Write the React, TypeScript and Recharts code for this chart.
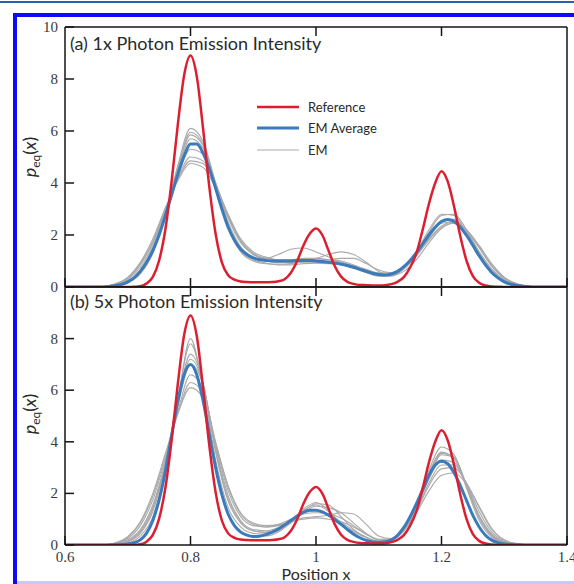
import { Line, LineChart, XAxis, YAxis } from "recharts";

// positions along x (fine grid for reference/average, coarse grid for single EM runs)
const posFine = [
  0.6, 0.61, 0.62, 0.63, 0.64, 0.65, 0.66, 0.67, 0.68, 0.69, 0.7,
  0.71, 0.72, 0.73, 0.74, 0.75, 0.76, 0.77, 0.78, 0.79, 0.8,
  0.81, 0.82, 0.83, 0.84, 0.85, 0.86, 0.87, 0.88, 0.89, 0.9,
  0.91, 0.92, 0.93, 0.94, 0.95, 0.96, 0.97, 0.98, 0.99, 1.0,
  1.01, 1.02, 1.03, 1.04, 1.05, 1.06, 1.07, 1.08, 1.09, 1.1,
  1.11, 1.12, 1.13, 1.14, 1.15, 1.16, 1.17, 1.18, 1.19, 1.2,
  1.21, 1.22, 1.23, 1.24, 1.25, 1.26, 1.27, 1.28, 1.29, 1.3,
  1.31, 1.32, 1.33, 1.34, 1.35, 1.36, 1.37, 1.38, 1.39, 1.4,
];

const posCoarse = [
  0.6, 0.64, 0.66, 0.68, 0.7, 0.72, 0.74, 0.76, 0.78, 0.8,
  0.82, 0.84, 0.86, 0.88, 0.9, 0.92, 0.94, 0.96, 0.98, 1.0,
  1.02, 1.04, 1.06, 1.08, 1.1, 1.12, 1.14, 1.16, 1.18, 1.2,
  1.22, 1.24, 1.26, 1.28, 1.3, 1.32, 1.34, 1.36, 1.4,
];

const reference = [
  0, 0, 0, 0, 0, 0, 0, 0, 0, 0, 0,
  0.01, 0.03, 0.13, 0.39, 1.02, 2.22, 4.08, 6.29, 8.16, 8.9,
  8.1, 6.1, 3.85, 2.05, 0.95, 0.45, 0.28, 0.21, 0.19, 0.18,
  0.18, 0.18, 0.19, 0.22, 0.3, 0.55, 1.0, 1.6, 2.05, 2.25,
  2.0, 1.4, 0.8, 0.4, 0.2, 0.12, 0.08, 0.07, 0.06, 0.06,
  0.07, 0.11, 0.2, 0.38, 0.75, 1.3, 2.2, 3.2, 4.0, 4.45,
  4.05, 3.1, 1.95, 1.0, 0.42, 0.16, 0.06, 0.02, 0.01, 0,
  0, 0, 0, 0, 0, 0, 0, 0, 0, 0,
];

const emAverageA = [
  0, 0, 0, 0, 0, 0, 0, 0.02, 0.05, 0.1, 0.2,
  0.35, 0.6, 0.95, 1.4, 2.0, 2.75, 3.55, 4.35, 5.05, 5.5,
  5.5, 5.15, 4.55, 3.8, 3.0, 2.3, 1.8, 1.45, 1.25, 1.12,
  1.05, 1.02, 1.0, 1.0, 1.0, 1.0, 1.02, 1.02, 1.02, 1.0,
  0.98, 0.95, 0.92, 0.88, 0.83, 0.76, 0.68, 0.6, 0.53, 0.48,
  0.46, 0.5, 0.6, 0.78, 1.02, 1.32, 1.66, 2.0, 2.3, 2.52,
  2.6, 2.52, 2.3, 1.98, 1.6, 1.2, 0.85, 0.56, 0.35, 0.2,
  0.11, 0.06, 0.03, 0.01, 0, 0, 0, 0, 0, 0,
];

const emAverageB = [
  0, 0, 0, 0, 0, 0, 0, 0, 0.01, 0.02, 0.04,
  0.09, 0.2, 0.46, 0.95, 1.75, 2.87, 4.25, 5.6, 6.62, 7.0,
  6.6, 5.6, 4.3, 3.0, 1.95, 1.2, 0.75, 0.5, 0.38, 0.33,
  0.34, 0.4, 0.5, 0.62, 0.78, 0.95, 1.12, 1.27, 1.35, 1.35,
  1.28, 1.15, 0.98, 0.8, 0.6, 0.42, 0.28, 0.18, 0.12, 0.1,
  0.12, 0.2, 0.38, 0.68, 1.1, 1.6, 2.15, 2.7, 3.1, 3.25,
  3.15, 2.8, 2.3, 1.72, 1.15, 0.7, 0.38, 0.19, 0.09, 0.04,
  0.02, 0.01, 0, 0, 0, 0, 0, 0, 0, 0,
];

// individual EM runs, 1x intensity
const emRunsA = [
  [0, 0, 0, 0.03, 0.15, 0.5, 1.3, 2.8, 4.7, 6.1, 5.6, 4.0, 2.3, 1.35, 1.0, 0.9, 0.88, 0.9, 0.95, 0.95, 0.92, 0.86, 0.74, 0.58, 0.45, 0.45, 0.72, 1.3, 2.1, 2.75, 2.8, 2.2, 1.3, 0.55, 0.18, 0.05, 0.01, 0, 0],
  [0, 0, 0, 0.04, 0.18, 0.55, 1.35, 2.75, 4.6, 5.95, 5.5, 3.9, 2.3, 1.4, 1.1, 1.1, 1.25, 1.45, 1.5, 1.35, 1.15, 0.95, 0.8, 0.65, 0.5, 0.48, 0.7, 1.2, 1.9, 2.45, 2.5, 2.0, 1.2, 0.55, 0.2, 0.06, 0.01, 0, 0],
  [0, 0, 0.01, 0.06, 0.22, 0.65, 1.5, 2.85, 4.45, 5.7, 5.35, 4.0, 2.5, 1.55, 1.15, 1.0, 0.95, 0.95, 1.0, 1.05, 1.05, 1.0, 0.85, 0.65, 0.48, 0.45, 0.7, 1.25, 1.95, 2.5, 2.6, 2.15, 1.35, 0.65, 0.25, 0.08, 0.02, 0, 0],
  [0, 0, 0.01, 0.08, 0.28, 0.75, 1.6, 2.9, 4.3, 5.3, 5.1, 4.0, 2.65, 1.7, 1.25, 1.1, 1.05, 1.05, 1.05, 1.0, 0.95, 0.9, 0.8, 0.65, 0.52, 0.5, 0.75, 1.3, 2.0, 2.55, 2.6, 2.1, 1.35, 0.7, 0.28, 0.09, 0.02, 0, 0],
  [0, 0, 0.02, 0.1, 0.32, 0.85, 1.7, 2.95, 4.2, 5.0, 4.85, 3.95, 2.75, 1.8, 1.3, 1.1, 1.0, 0.98, 0.98, 1.0, 1.05, 1.1, 1.1, 0.9, 0.65, 0.55, 0.75, 1.2, 1.8, 2.3, 2.45, 2.15, 1.5, 0.8, 0.32, 0.1, 0.03, 0, 0],
  [0, 0, 0.02, 0.1, 0.35, 0.9, 1.75, 3.0, 4.15, 4.85, 4.75, 3.9, 2.8, 1.85, 1.35, 1.15, 1.05, 1.05, 1.1, 1.1, 1.05, 0.95, 0.82, 0.68, 0.55, 0.55, 0.78, 1.25, 1.85, 2.35, 2.5, 2.2, 1.55, 0.85, 0.35, 0.12, 0.03, 0.01, 0],
  [0, 0, 0.02, 0.12, 0.38, 0.95, 1.85, 3.05, 4.1, 4.75, 4.6, 3.8, 2.7, 1.75, 1.25, 1.05, 0.95, 0.95, 1.0, 1.1, 1.25, 1.35, 1.25, 0.95, 0.6, 0.45, 0.6, 1.05, 1.7, 2.25, 2.45, 2.2, 1.6, 0.9, 0.38, 0.12, 0.03, 0.01, 0],
  [0, 0, 0, 0.04, 0.18, 0.55, 1.4, 2.8, 4.55, 5.85, 5.45, 3.95, 2.4, 1.45, 1.05, 0.92, 0.85, 0.85, 0.9, 0.92, 0.9, 0.85, 0.72, 0.55, 0.42, 0.42, 0.7, 1.35, 2.2, 2.8, 2.75, 2.1, 1.25, 0.55, 0.18, 0.05, 0.01, 0, 0],
];

// individual EM runs, 5x intensity
const emRunsB = [
  [0, 0, 0, 0.02, 0.08, 0.35, 1.1, 2.9, 5.6, 8.0, 6.0, 3.0, 1.2, 0.55, 0.35, 0.35, 0.5, 0.9, 1.4, 1.65, 1.35, 0.8, 0.4, 0.2, 0.12, 0.18, 0.6, 1.6, 2.9, 3.8, 3.5, 2.2, 0.95, 0.3, 0.08, 0.02, 0, 0, 0],
  [0, 0, 0, 0.03, 0.12, 0.45, 1.3, 3.1, 5.7, 7.8, 6.2, 3.3, 1.45, 0.7, 0.45, 0.42, 0.55, 0.85, 1.25, 1.5, 1.45, 1.25, 0.85, 0.45, 0.2, 0.2, 0.55, 1.4, 2.6, 3.5, 3.4, 2.3, 1.1, 0.38, 0.1, 0.02, 0, 0, 0],
  [0, 0, 0, 0.04, 0.15, 0.5, 1.4, 3.2, 5.6, 7.4, 6.3, 3.6, 1.7, 0.85, 0.55, 0.5, 0.62, 0.95, 1.35, 1.55, 1.3, 0.85, 0.5, 0.28, 0.15, 0.2, 0.65, 1.6, 2.8, 3.6, 3.35, 2.25, 1.05, 0.35, 0.09, 0.02, 0, 0, 0],
  [0, 0, 0, 0.05, 0.2, 0.6, 1.55, 3.2, 5.4, 7.0, 6.2, 3.8, 1.9, 0.95, 0.6, 0.55, 0.68, 0.95, 1.25, 1.35, 1.2, 0.9, 0.55, 0.3, 0.15, 0.2, 0.6, 1.45, 2.55, 3.3, 3.2, 2.3, 1.15, 0.42, 0.12, 0.03, 0.01, 0, 0],
  [0, 0, 0.01, 0.06, 0.25, 0.75, 1.75, 3.35, 5.2, 6.6, 6.0, 3.9, 2.1, 1.1, 0.75, 0.7, 0.8, 1.0, 1.2, 1.25, 1.2, 1.05, 0.75, 0.42, 0.2, 0.22, 0.6, 1.35, 2.4, 3.1, 3.1, 2.35, 1.3, 0.5, 0.15, 0.04, 0.01, 0, 0],
  [0, 0, 0.01, 0.08, 0.3, 0.85, 1.9, 3.45, 5.1, 6.3, 5.9, 4.0, 2.25, 1.2, 0.8, 0.7, 0.75, 0.9, 1.05, 1.1, 1.15, 1.25, 1.2, 0.8, 0.35, 0.25, 0.55, 1.3, 2.3, 2.95, 3.0, 2.4, 1.45, 0.6, 0.18, 0.05, 0.01, 0, 0],
  [0, 0, 0.01, 0.08, 0.32, 0.9, 2.0, 3.55, 5.1, 6.1, 5.7, 3.95, 2.3, 1.25, 0.85, 0.75, 0.78, 0.9, 1.0, 1.05, 1.0, 0.9, 0.7, 0.42, 0.22, 0.25, 0.6, 1.25, 2.1, 2.7, 2.8, 2.35, 1.5, 0.65, 0.2, 0.06, 0.01, 0, 0],
  [0, 0, 0, 0.04, 0.16, 0.55, 1.45, 3.15, 5.5, 7.2, 6.25, 3.7, 1.8, 0.9, 0.55, 0.48, 0.6, 0.9, 1.3, 1.6, 1.55, 1.1, 0.6, 0.3, 0.14, 0.18, 0.62, 1.55, 2.75, 3.55, 3.4, 2.3, 1.1, 0.38, 0.1, 0.02, 0, 0, 0],
];

const xTicks = [0.6, 0.8, 1, 1.2, 1.4];
const innerXTicks = [0.8, 1, 1.2];
const yTicksA = [0, 2, 4, 6, 8, 10];
const yTicksB = [0, 2, 4, 6, 8];
const rightYTicks = [2, 4, 6, 8];

const legendItems = ["Reference", "EM Average", "EM"];

const RED = "#dc1f30";
const BLUE = "#3a7bbd";
const GRAY = "#a9a9a9";
const INK = "#141414";
const sans = "Lato, 'Open Sans', sans-serif";
const tickFont = { fontFamily: "'Liberation Serif', serif", fontSize: 15, fill: "#3a3a3a" };

const toRows = (xs: number[], ys: number[]) => xs.map((x, i) => ({ x, y: ys[i] }));

function LeftTick({ x, y, payload }: any) {
  return (
    <g>
      <line x1={x} x2={x + 9} y1={y} y2={y} stroke={INK} strokeWidth={1.5} />
      <text x={x - 7} y={y + 5} textAnchor="end" {...tickFont}>
        {payload.value}
      </text>
    </g>
  );
}

function RightTick({ x, y }: any) {
  return <line x1={x} x2={x - 9} y1={y} y2={y} stroke={INK} strokeWidth={1.5} />;
}

function TopTick({ x, y }: any) {
  return <line x1={x} x2={x} y1={y} y2={y + 9} stroke={INK} strokeWidth={1.5} />;
}

function makeBottomTick(showLabel: boolean) {
  return ({ x, y, payload }: any) => (
    <g>
      <line x1={x} x2={x} y1={y} y2={y - 9} stroke={INK} strokeWidth={1.5} />
      {showLabel && (
        <text x={x} y={y + 17} textAnchor="middle" {...tickFont}>
          {payload.value}
        </text>
      )}
    </g>
  );
}

type PanelProps = {
  top: number;
  height: number;
  margin: { top: number; right: number; bottom: number; left: number };
  bottomHeight: number;
  average: number[];
  runs: number[][];
  yTicks: number[];
  showXLabels: boolean;
};

function Panel({ top, height, margin, bottomHeight, average, runs, yTicks, showXLabels }: PanelProps) {
  return (
    <div style={{ position: "absolute", left: 0, top }}>
      <LineChart width={574} height={height} margin={margin}>
        <XAxis
          xAxisId="bottom"
          dataKey="x"
          type="number"
          domain={[0.6, 1.4]}
          allowDataOverflow
          ticks={xTicks}
          interval={0}
          height={bottomHeight}
          tickSize={0}
          tickMargin={0}
          tickLine={false}
          axisLine={{ stroke: INK, strokeWidth: 1.5 }}
          tick={makeBottomTick(showXLabels)}
        />
        <XAxis
          xAxisId="top"
          orientation="top"
          dataKey="x"
          type="number"
          domain={[0.6, 1.4]}
          allowDataOverflow
          ticks={innerXTicks}
          interval={0}
          height={1}
          tickSize={0}
          tickMargin={0}
          tickLine={false}
          axisLine={{ stroke: INK, strokeWidth: 1.5 }}
          tick={TopTick}
        />
        <YAxis
          yAxisId="left"
          type="number"
          domain={[0, 10]}
          allowDataOverflow
          ticks={yTicks}
          interval={0}
          width={40}
          tickSize={0}
          tickMargin={0}
          tickLine={false}
          axisLine={{ stroke: INK, strokeWidth: 1.5 }}
          tick={LeftTick}
        />
        <YAxis
          yAxisId="right"
          orientation="right"
          type="number"
          domain={[0, 10]}
          ticks={rightYTicks}
          interval={0}
          width={1}
          tickSize={0}
          tickMargin={0}
          tickLine={false}
          axisLine={{ stroke: INK, strokeWidth: 1.5 }}
          tick={RightTick}
        />
        {runs.map((run, i) => (
          <Line
            key={i}
            xAxisId="bottom"
            yAxisId="left"
            data={toRows(posCoarse, run)}
            dataKey="y"
            type="monotone"
            stroke={GRAY}
            strokeWidth={1.1}
            dot={false}
            isAnimationActive={false}
          />
        ))}
        <Line
          xAxisId="bottom"
          yAxisId="left"
          data={toRows(posFine, average)}
          dataKey="y"
          type="monotone"
          stroke={BLUE}
          strokeWidth={3}
          dot={false}
          isAnimationActive={false}
        />
        <Line
          xAxisId="bottom"
          yAxisId="left"
          data={toRows(posFine, reference)}
          dataKey="y"
          type="monotone"
          stroke={RED}
          strokeWidth={2.5}
          dot={false}
          isAnimationActive={false}
        />
      </LineChart>
    </div>
  );
}

function YLabel({ cy }: { cy: number }) {
  return (
    <div
      style={{
        position: "absolute",
        left: 30,
        top: cy,
        transform: "translate(-50%, -50%) rotate(-90deg)",
        whiteSpace: "nowrap",
        fontFamily: sans,
        fontSize: 18,
        lineHeight: "20px",
        color: "#2a2a2a",
      }}
    >
      <i>p</i>
      <span style={{ fontSize: 12, position: "relative", top: 4 }}>eq</span>(<i>x</i>)
    </div>
  );
}

function Title({ top, text }: { top: number; text: string }) {
  return (
    <div
      style={{
        position: "absolute",
        left: 70,
        top,
        fontFamily: sans,
        fontSize: 18,
        lineHeight: "20px",
        color: "#2a2a2a",
        whiteSpace: "nowrap",
      }}
    >
      {text}
    </div>
  );
}

function Legend() {
  const strokes = [
    { color: RED, width: 2.5 },
    { color: BLUE, width: 3 },
    { color: GRAY, width: 1.1 },
  ];
  return (
    <div style={{ position: "absolute", left: 257, top: 96 }}>
      {legendItems.map((name, i) => (
        <div
          key={name}
          style={{ display: "flex", alignItems: "center", height: 21.5 }}
        >
          <svg width={42} height={8}>
            <line x1={0} x2={42} y1={4} y2={4} stroke={strokes[i].color} strokeWidth={strokes[i].width} />
          </svg>
          <span
            style={{
              marginLeft: 9,
              fontFamily: sans,
              fontSize: 13,
              color: "#2a2a2a",
              whiteSpace: "nowrap",
            }}
          >
            {name}
          </span>
        </div>
      ))}
    </div>
  );
}

export default function App() {
  return (
    <div
      style={{
        position: "absolute",
        left: 0,
        top: 0,
        width: 574,
        height: 584,
        overflow: "hidden",
        background: "#fff",
      }}
    >
      <div style={{ position: "absolute", left: 0, top: 1, width: 574, height: 2, background: "#2a63ab" }} />
      <div
        style={{
          position: "absolute",
          left: 13,
          top: 13,
          width: 600,
          height: 600,
          borderTop: "4px solid #0b0bf5",
          borderLeft: "4px solid #0b0bf5",
        }}
      />
      <div style={{ position: "absolute", left: 17, top: 581, width: 557, height: 3, background: "#c9c9f6" }} />

      <Panel
        top={0}
        height={300}
        margin={{ top: 26, right: 6, bottom: 12, left: 25 }}
        bottomHeight={1}
        average={emAverageA}
        runs={emRunsA}
        yTicks={yTicksA}
        showXLabels={false}
      />
      <Panel
        top={280}
        height={304}
        margin={{ top: 6, right: 6, bottom: 3, left: 25 }}
        bottomHeight={36}
        average={emAverageB}
        runs={emRunsB}
        yTicks={yTicksB}
        showXLabels={true}
      />

      <Title top={33} text="(a) 1x Photon Emission Intensity" />
      <Title top={291} text="(b) 5x Photon Emission Intensity" />
      <Legend />
      <YLabel cy={157} />
      <YLabel cy={414} />
      <div
        style={{
          position: "absolute",
          left: 316,
          top: 566,
          transform: "translateX(-50%)",
          fontFamily: sans,
          fontSize: 16,
          lineHeight: "16px",
          color: "#2a2a2a",
          whiteSpace: "nowrap",
        }}
      >
        Position x
      </div>
    </div>
  );
}
